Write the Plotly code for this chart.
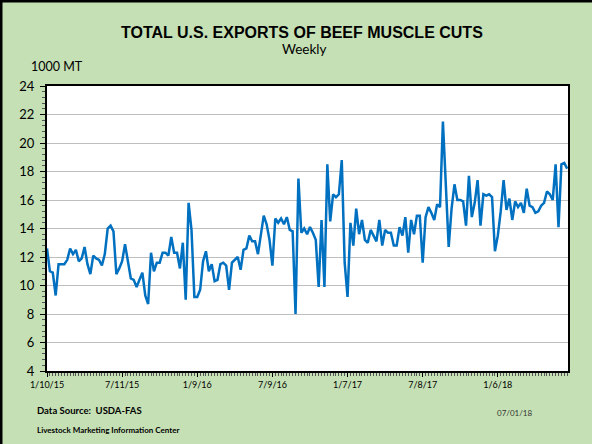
import pandas as pd
import plotly.graph_objects as go

start_week = "2015-01-10"
exports_2015 = [12.6, 11.0, 10.9, 9.3, 11.5, 11.5, 11.5, 11.8, 12.6, 12.2, 12.5, 11.7, 11.9, 12.7, 11.5,
                10.8, 12.1, 11.9, 11.8, 11.4, 12.2, 14.0, 14.2, 13.8, 10.8, 11.2, 11.7, 12.9, 11.6, 10.5,
                10.4, 9.9, 10.4, 10.9, 9.3, 8.7, 12.3, 11.0, 11.6, 11.6, 12.3, 12.3, 12.1, 13.4, 12.3, 12.3]
exports_2016 = [11.2, 13.0, 9.0, 15.8, 13.9, 9.2, 9.2, 9.7, 11.7, 12.4, 11.0, 11.5, 10.3, 10.4, 11.5,
                11.6, 11.4, 9.7, 11.6, 11.8, 12.0, 11.1, 12.5, 12.6, 13.5, 13.1, 13.1, 12.2, 13.4, 14.9,
                14.3, 13.2, 11.4, 14.7, 14.4, 14.7, 14.3, 14.8, 13.9, 13.8, 8.0, 17.5]
exports_2017 = [13.7, 14.0, 13.6, 14.1, 13.7, 13.2, 9.9, 14.6, 9.9, 18.5, 14.5, 16.4, 16.2, 16.4, 18.8,
                11.6, 9.2, 14.4, 12.8, 15.4, 13.6, 14.6, 13.2, 13.0, 13.9, 13.5, 13.1, 14.6, 12.8, 13.9,
                13.7, 13.7, 12.8, 12.8, 14.1, 13.5, 14.8, 12.3, 14.6, 13.6, 14.9, 14.9, 11.6, 14.8, 15.5,
                15.1, 14.6, 15.7, 15.5]
exports_2018 = [21.5, 17.4, 12.7, 15.4, 17.1, 16.0, 16.0, 15.9, 14.2, 17.7, 14.8, 15.8, 17.4, 14.2, 16.4,
                16.3, 16.4, 16.2, 12.4, 13.5, 15.2, 17.4, 15.3, 16.1, 14.6, 15.9, 15.5, 15.8, 15.1, 16.8,
                15.6, 15.5, 15.1, 15.2, 15.6, 15.8, 16.6, 16.4, 16.0, 18.5, 14.1, 18.5, 18.6, 18.2]
tick_dates = ["2015-01-10", "2015-07-11", "2016-01-09", "2016-07-09", "2017-01-07", "2017-07-08", "2018-01-06"]
tick_labels = ["1/10/15", "7/11/15", "1/9/16", "7/9/16", "1/7/17", "7/8/17", "1/6/18"]
y_ticks = [4, 6, 8, 10, 12, 14, 16, 18, 20, 22, 24]

values = exports_2015 + exports_2016 + exports_2017 + exports_2018
weeks = pd.date_range(start_week, periods=len(values), freq="7D")

BG = "#C5E0B4"
L, R, T, B = 47, 568, 86, 371
W, H = 592, 444
pw, ph = R - L, B - T

fig = go.Figure()
fig.add_trace(go.Scatter(x=weeks, y=values, mode="lines",
                         line=dict(color="#0070C0", width=2.5), hoverinfo="skip"))

def px_x(x):
    return (x - L) / pw

def px_y(y):
    return (B - y) / ph

fig.update_layout(
    width=W, height=H,
    margin=dict(l=L, r=W - R, t=T, b=H - B),
    paper_bgcolor=BG, plot_bgcolor="white",
    showlegend=False,
    xaxis=dict(
        type="date",
        range=["2015-01-10", "2018-06-25"],
        tickvals=tick_dates, ticktext=tick_labels,
        ticks="outside", ticklen=4, tickwidth=1, tickcolor="black",
        minor=dict(dtick=7 * 86400000, tick0=start_week, ticks="outside", ticklen=3,
                   tickwidth=1, tickcolor="#555555", showgrid=False),
        showgrid=False, zeroline=False,
        showline=True, linecolor="black", linewidth=2, mirror=True,
        tickfont=dict(family="Lato", size=9, color="black"),
    ),
    yaxis=dict(
        range=[4, 24], tickvals=y_ticks,
        ticks="outside", ticklen=5, tickwidth=1, tickcolor="black",
        minor=dict(dtick=0.4, ticks="outside", ticklen=3, tickwidth=1,
                   tickcolor="#555555", showgrid=False),
        showgrid=True, gridcolor="#BEBEBE", gridwidth=1.3,
        zeroline=False,
        showline=True, linecolor="black", linewidth=2, mirror=True,
        tickfont=dict(family="Lato", size=13, color="black"),
        ticklabelstandoff=3,
    ),
)

annotations = [
    dict(text="<b>TOTAL U.S. EXPORTS OF BEEF MUSCLE CUTS</b>", x=px_x(302), y=px_y(32),
         font=dict(family="Liberation Sans", size=16, color="black")),
    dict(text="Weekly", x=px_x(304), y=px_y(49),
         font=dict(family="Lato", size=13.5, color="black")),
    dict(text="1000 MT", x=px_x(29), y=px_y(66), xanchor="left",
         font=dict(family="Lato", size=12.5, color="black")),
    dict(text="<b>Data Source:  USDA-FAS</b>", x=px_x(35), y=px_y(410), xanchor="left",
         font=dict(family="Lato", size=9.5, color="black")),
    dict(text="<b>Livestock Marketing Information Center</b>", x=px_x(35), y=px_y(430), xanchor="left",
         font=dict(family="Lato", size=8, color="black")),
    dict(text="07/01/18", x=px_x(534), y=px_y(413), xanchor="right",
         font=dict(family="Lato", size=8, color="#333333")),
]
for a in annotations:
    a.update(xref="paper", yref="paper", showarrow=False, yanchor="middle")
    a.setdefault("xanchor", "center")
fig.update_layout(annotations=annotations)

fig.add_shape(type="line", xref="paper", yref="paper",
              x0=px_x(0), x1=px_x(W), y0=px_y(1), y1=px_y(1),
              line=dict(color="black", width=3))
fig.add_shape(type="line", xref="paper", yref="paper",
              x0=px_x(1), x1=px_x(1), y0=px_y(0), y1=px_y(H),
              line=dict(color="black", width=3))

fig.write_html("out.html", config={"displayModeBar": False},
               post_script="document.body.style.margin='0';document.body.style.overflow='hidden';")
